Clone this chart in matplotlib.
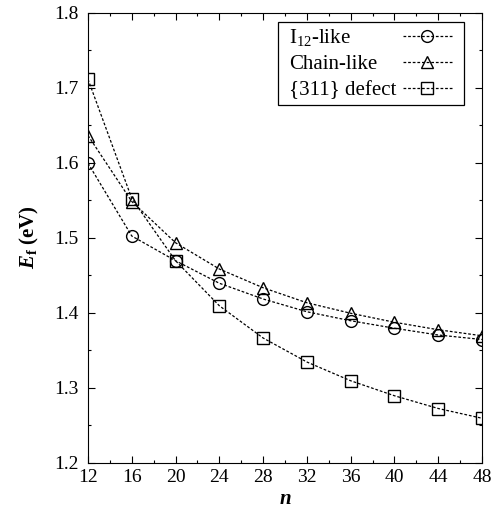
import matplotlib
matplotlib.use("Agg")
import matplotlib.pyplot as plt
from matplotlib.ticker import MultipleLocator
from matplotlib.transforms import Bbox

plt.rcParams['font.family'] = ['Liberation Serif', 'DejaVu Serif']
plt.rcParams['mathtext.fontset'] = 'custom'
plt.rcParams['mathtext.rm'] = 'Liberation Serif'
plt.rcParams['mathtext.it'] = 'Liberation Serif:italic:bold'
plt.rcParams['mathtext.bf'] = 'Liberation Serif:bold'

n = [12, 16, 20, 24, 28, 32, 36, 40, 44, 48]
i12_like = [1.599, 1.502, 1.469, 1.439, 1.418, 1.401, 1.389, 1.379, 1.370, 1.364]
chain_like = [1.636, 1.548, 1.493, 1.458, 1.433, 1.413, 1.399, 1.387, 1.377, 1.369]
defect_311 = [1.711, 1.552, 1.469, 1.409, 1.366, 1.334, 1.309, 1.289, 1.272, 1.259]

xticks = [12, 16, 20, 24, 28, 32, 36, 40, 44, 48]
yticks = [1.2, 1.3, 1.4, 1.5, 1.6, 1.7, 1.8]

fig = plt.figure(figsize=(4.96, 5.17), dpi=100)
ax = fig.add_axes([88 / 496, 1 - 462.5 / 517, 394 / 496, 450 / 517])

ls = (0, (2.2, 1.5))
kw = dict(color='black', linestyle=ls, linewidth=0.9, markerfacecolor='none',
          markeredgecolor='black', markeredgewidth=1.0)
ax.plot(n, i12_like, marker='o', markersize=8.5, label=r'I$_{12}$-like', **kw)
ax.plot(n, chain_like, marker='^', markersize=8.5, label='Chain-like', **kw)
ax.plot(n, defect_311, marker='s', markersize=8.5, label='{311} defect', **kw)

ax.set_xlim(12, 48)
ax.set_ylim(1.2, 1.8)
ax.set_xticks(xticks)
ax.set_yticks(yticks)
ax.set_yticklabels([f'{v:.1f}' for v in yticks])
ax.xaxis.set_minor_locator(MultipleLocator(2))
ax.yaxis.set_minor_locator(MultipleLocator(0.05))
ax.tick_params(which='both', direction='in', top=True, right=True, labelsize=14)
ax.tick_params(which='major', length=5, width=0.8)
ax.tick_params(which='minor', length=2.5, width=0.8)
ax.tick_params(axis='x', pad=5)
ax.tick_params(axis='y', pad=7)

ax.set_xlabel('n', fontsize=15, fontweight='bold', fontstyle='italic', labelpad=2)
ax.set_ylabel(r'$E_{\mathbf{f}}$ (eV)', fontsize=15, fontweight='bold', labelpad=9)

leg = ax.legend(loc='upper right', bbox_to_anchor=(0.954, 0.979), borderaxespad=0,
                markerfirst=False, fontsize=15, frameon=True,
                fancybox=False, edgecolor='black', framealpha=1,
                handlelength=2.35, handletextpad=0.29, borderpad=0.25,
                labelspacing=0.31)
leg.get_frame().set_linewidth(0.9)

# left-align legend labels (gnuplot style) and add some inner horizontal padding
fig.canvas.draw()
renderer = fig.canvas.get_renderer()
extra_left = 6.0
extra_right = 7.0
for col in leg._legend_handle_box.get_children():
    items = col.get_children()
    tas = [it.get_children()[0] for it in items]
    hbs = [it.get_children()[1] for it in items]
    maxw = max(ta.get_bbox(renderer).width for ta in tas)
    for ta in tas:
        orig = ta.get_bbox
        def nb(r, orig=orig, maxw=maxw):
            b = orig(r)
            return Bbox.from_bounds(b.x0 - extra_left, b.y0, maxw + extra_left, b.height)
        ta.get_bbox = nb
    for hb in hbs:
        origh = hb.get_bbox
        def nbh(r, origh=origh):
            b = origh(r)
            return Bbox.from_bounds(b.x0, b.y0, b.width + extra_right, b.height)
        hb.get_bbox = nbh

fig.savefig('out.png', dpi=100)
